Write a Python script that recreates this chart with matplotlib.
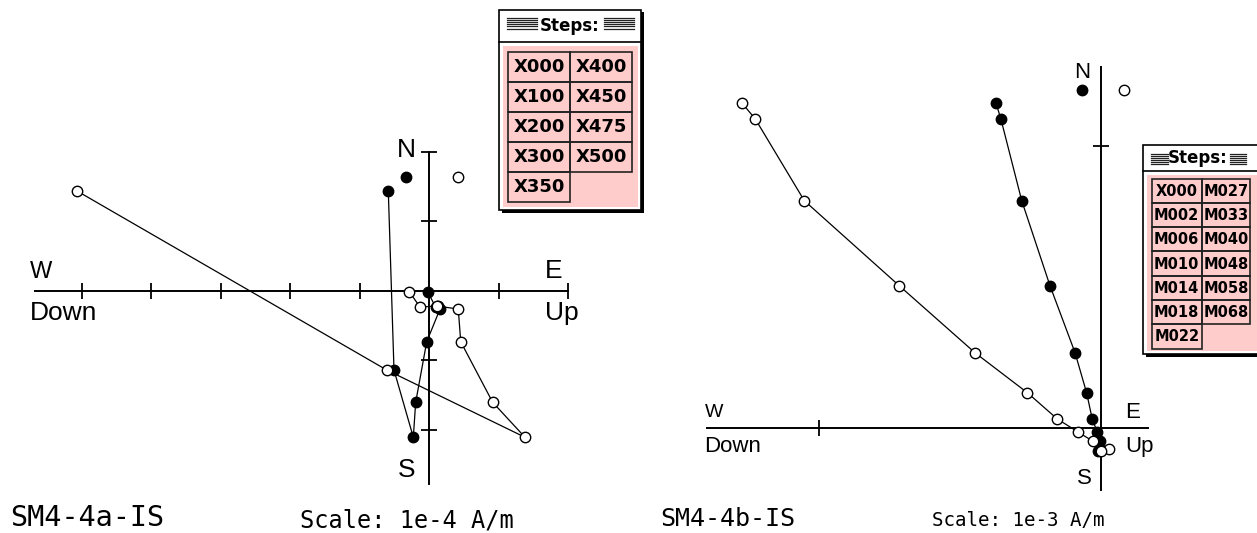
import numpy as np
import matplotlib
matplotlib.use("Agg")
import matplotlib.pyplot as plt
from matplotlib.patches import Rectangle

W, H = 1257, 533

# SM4-4a-IS, thermal demag; components in units of 1e-4 A/m (first entry drawn alone)
steps_a = ["X000", "X100", "X200", "X300", "X350", "X400", "X450", "X475", "X500"]
north_a = [1.64, 1.435, -1.141, -2.109, -1.606, -0.734, -0.264, -0.220, -0.235, -0.014]
east_a = [-0.34, -0.590, -0.508, -0.230, -0.196, -0.037, 0.154, 0.120, 0.090, -0.023]
up_a = [0.409, -5.069, -0.613, 1.377, 0.912, 0.452, 0.417, 0.106, -0.134, -0.288]

# SM4-4b-IS, AF demag; components in units of 1e-3 A/m
steps_b = ["X000", "M002", "M006", "M010", "M014", "M018", "M022",
           "M027", "M033", "M040", "M048", "M058", "M068"]
north_b = [1.198, 1.150, 1.095, 0.805, 0.504, 0.266, 0.124, 0.031, -0.016, -0.048, -0.077, -0.084]
east_b = [-0.067, -0.371, -0.354, -0.280, -0.180, -0.091, -0.050, -0.030, -0.012, -0.002, -0.004, -0.009]
up_b = [0.084, -1.271, -1.225, -1.051, -0.715, -0.446, -0.260, -0.154, -0.079, -0.028, 0.030, 0.001]

fig = plt.figure(figsize=(W / 100, H / 100), dpi=100)


def zij_axes(ox, oy, ppu, xspan, yspan, xticks, yticks):
    # ox, oy: pixel position of the origin; ppu: pixels per unit
    ax = fig.add_axes([0, 0, 1, 1], facecolor="none")
    ax.set_xlim(-ox / ppu, (W - ox) / ppu)
    ax.set_ylim((oy - H) / ppu, oy / ppu)
    for s in ["top", "right"]:
        ax.spines[s].set_visible(False)
    for s in ["bottom", "left"]:
        ax.spines[s].set_position(("data", 0))
        ax.spines[s].set_linewidth(1.4)
    ax.spines["bottom"].set_bounds(*xspan)
    ax.spines["left"].set_bounds(*yspan)
    ax.set_xticks(xticks)
    ax.set_yticks(yticks)
    ax.tick_params(direction="inout", length=11, width=1.3,
                   labelbottom=False, labelleft=False)
    return ax


def zij_plot(ax, n, e, u):
    ax.plot(e[1:], n[1:], "-", color="k", lw=0.9, marker="o", ms=7.5,
            mfc="k", mec="k", zorder=3)
    ax.plot(u[1:], n[1:], "-", color="k", lw=0.9, marker="o", ms=7.5,
            mfc="white", mec="k", mew=1.0, zorder=3)
    ax.plot(e[0], n[0], "o", ms=7.5, mfc="k", mec="k", zorder=3)
    ax.plot(u[0], n[0], "o", ms=7.5, mfc="white", mec="k", mew=1.0, zorder=3)


ax_a = zij_axes(429.3, 290.7, 69.5, (-5.67, 2.0), (-2.78, 2.0),
                [-5, -4, -3, -2, -1, 1, 2], [-2, -1, 1, 2])
zij_plot(ax_a, north_a, east_a, up_a)

ax_b = zij_axes(1100.7, 427.7, 282.0, (-1.396, 0.168), (-0.221, 1.279),
                [-1], [1])
zij_plot(ax_b, north_b, east_b, up_b)

# pixel overlay for labels and step lists
px = fig.add_axes([0, 0, 1, 1], facecolor="none")
px.set_xlim(0, W)
px.set_ylim(H, 0)
px.axis("off")

lab = dict(family="Liberation Sans", color="k")
# left diagram
px.text(406, 150, "N", ha="center", va="center", fontsize=19, **lab)
px.text(407, 470, "S", ha="center", va="center", fontsize=19, **lab)
px.text(30, 278, "W", ha="left", va="baseline", fontsize=17, **lab)
px.text(545, 278, "E", ha="left", va="baseline", fontsize=19, **lab)
px.text(30, 320, "Down", ha="left", va="baseline", fontsize=19, **lab)
px.text(545, 320, "Up", ha="left", va="baseline", fontsize=19, **lab)
# right diagram
px.text(1082.5, 72, "N", ha="center", va="center", fontsize=16, **lab)
px.text(1084, 478, "S", ha="center", va="center", fontsize=16, **lab)
px.text(705, 417, "W", ha="left", va="baseline", fontsize=14, **lab)
px.text(1125, 418, "E", ha="left", va="baseline", fontsize=16, **lab)
px.text(704, 452, "Down", ha="left", va="baseline", fontsize=16, **lab)
px.text(1125, 452, "Up", ha="left", va="baseline", fontsize=16, **lab)

mono = dict(family="DejaVu Sans Mono", color="k", ha="left", va="bottom")
px.text(10, 532, "SM4-4a-IS", fontsize=20.5, **mono)
px.text(300, 532, "Scale: 1e-4 A/m", fontsize=17, **mono)
px.text(660, 531, "SM4-4b-IS", fontsize=18, **mono)
px.text(932, 530, "Scale: 1e-3 A/m", fontsize=13.8, **mono)


def steps_box(x0, y0, x1, y1, bar_y, stripes, title_x, cols, row_top, row_h,
              labels, nrows, fs, title_fs):
    # window with drop shadow
    px.add_patch(Rectangle((x0 + 2.5, y0 + 2.5), x1 - x0, y1 - y0, fc="k", ec="none", zorder=5))
    px.add_patch(Rectangle((x0, y0), x1 - x0, y1 - y0, fc="white", ec="k", lw=1.2, zorder=6))
    px.plot([x0, x1], [bar_y, bar_y], color="k", lw=1.2, zorder=7)
    px.add_patch(Rectangle((x0 + 3.5, bar_y + 4), x1 - x0 - 7, y1 - bar_y - 7.5,
                           fc="#ffcccc", ec="none", zorder=7))
    # striped title bar
    for sx0, sx1 in stripes:
        for k in range(6):
            yy = y0 + 8.5 + 2.1 * k
            px.plot([sx0, sx1], [yy, yy], color="#222222", lw=0.9, zorder=8)
    px.text(title_x, (y0 + bar_y) / 2 + 0.5, "Steps:", ha="center", va="center",
            fontsize=title_fs, fontweight="bold", family="DejaVu Sans", zorder=8)
    for i, s in enumerate(labels):
        c, r = divmod(i, nrows)
        cx0, cx1 = cols[c], cols[c + 1]
        ry = row_top + r * row_h
        px.add_patch(Rectangle((cx0, ry), cx1 - cx0, row_h, fc="none", ec="#222222",
                               lw=1.2, zorder=8))
        px.text((cx0 + cx1) / 2, ry + row_h / 2 + 0.5, s, ha="center", va="center",
                fontsize=fs, fontweight="bold", family="DejaVu Sans", zorder=9)


steps_box(499, 9.5, 641, 210, 41.7, [(507, 537), (604, 634)], 570,
          [508.3, 570, 631.7], 51.7, 30, steps_a, 5, 13, 12)
steps_box(1143.3, 145, 1265, 354, 170.7, [(1151, 1167.5), (1230, 1246)], 1198,
          [1151.7, 1201.7, 1250], 178.5, 24.3, steps_b, 7, 10.5, 12)

fig.savefig("out.png", dpi=100)
